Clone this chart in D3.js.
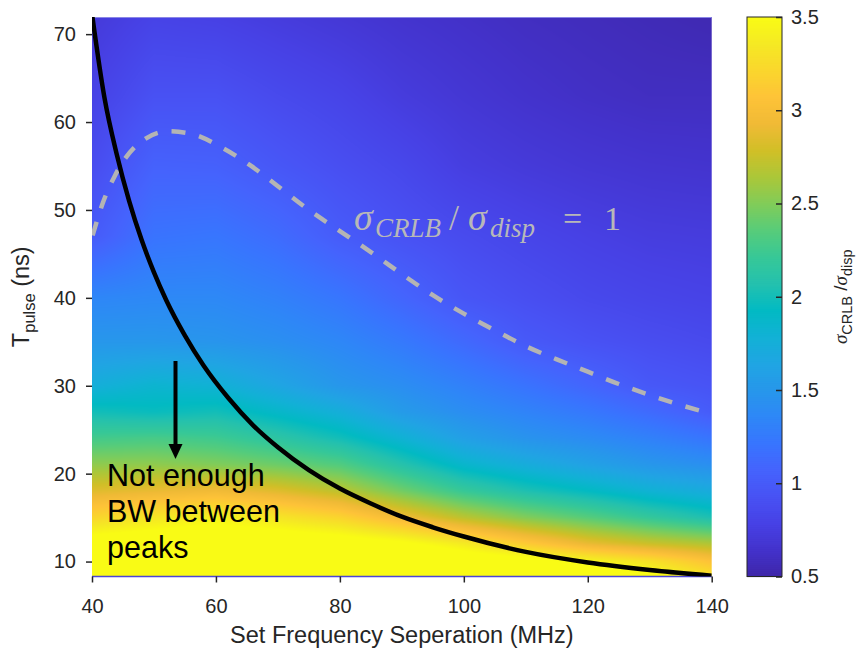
<!DOCTYPE html>
<html><head><meta charset="utf-8">
<script src="https://cdn.jsdelivr.net/npm/d3@7"></script>
<style>
body{margin:0;background:#fff;}
svg{display:block;font-family:"Liberation Sans",Arial,sans-serif;}
</style>
</head><body>
<svg id="chart" width="858" height="650"></svg>
<script>
// ---------------- data ----------------
const freqs  = [40, 50, 60, 70, 80, 90, 100, 110, 120, 130, 140];           // MHz (columns)
const pulses = [8.3, 10, 12, 15, 18, 21, 24, 27, 30, 35, 40, 47, 55, 63, 72]; // ns (rows)
const ratio = [
  [4.10, 4.20, 4.20, 4.20, 4.10, 4.05, 3.95, 3.85, 3.70, 3.55, 3.30],
  [3.90, 3.95, 4.00, 3.95, 3.90, 3.85, 3.70, 3.60, 3.45, 3.30, 3.06],
  [3.65, 3.70, 3.75, 3.70, 3.65, 3.55, 3.37, 3.13, 2.90, 2.76, 2.66],
  [3.21, 3.33, 3.42, 3.33, 3.20, 2.95, 2.70, 2.50, 2.35, 2.19, 2.04],
  [2.85, 2.90, 2.95, 2.85, 2.71, 2.45, 2.21, 2.05, 1.93, 1.80, 1.71],
  [2.55, 2.55, 2.50, 2.43, 2.33, 2.09, 1.86, 1.73, 1.61, 1.50, 1.43],
  [2.27, 2.29, 2.25, 2.14, 2.00, 1.80, 1.59, 1.47, 1.40, 1.31, 1.21],
  [2.00, 1.96, 2.00, 1.88, 1.75, 1.54, 1.42, 1.33, 1.24, 1.13, 1.01],
  [1.75, 1.83, 1.79, 1.65, 1.50, 1.42, 1.31, 1.20, 1.09, 0.98, 0.94],
  [1.50, 1.50, 1.48, 1.43, 1.36, 1.25, 1.12, 0.99, 0.93, 0.89, 0.86],
  [1.35, 1.37, 1.37, 1.31, 1.22, 1.09, 0.96, 0.90, 0.85, 0.82, 0.80],
  [1.00, 1.20, 1.22, 1.14, 1.01, 0.93, 0.87, 0.82, 0.78, 0.75, 0.74],
  [0.88, 1.06, 1.05, 0.97, 0.90, 0.84, 0.76, 0.72, 0.69, 0.67, 0.66],
  [0.79, 0.92, 0.92, 0.86, 0.81, 0.74, 0.69, 0.65, 0.62, 0.60, 0.60],
  [0.72, 0.80, 0.78, 0.74, 0.70, 0.66, 0.63, 0.60, 0.58, 0.56, 0.54]
];
// black solid curve (bandwidth limit)
const limitFreq  = [40, 42, 44, 46, 48, 50, 52, 55, 58, 62, 66, 70, 75, 80, 85, 90, 95, 100, 110, 120, 130, 140];
const limitPulse = [72.3, 62.8, 56.3, 51.0, 46.6, 42.9, 39.7, 35.7, 32.3, 28.6, 25.5, 23.0, 20.4, 18.3, 16.6, 15.1, 13.9, 12.85, 11.1, 9.9, 9.05, 8.4];
// gray dashed contour sigma_CRLB/sigma_disp = 1
const unityFreq  = [40.1, 41.8, 43.7, 46.7, 52.3, 55.8, 61.2, 65.5, 70, 75, 80, 85, 90, 95, 100, 105, 110, 115, 120, 125, 130, 135, 140];
const unityPulse = [47.1, 50.9, 53.9, 57.0, 58.95, 58.7, 57.0, 55.1, 52.7, 50.0, 47.6, 45.2, 42.7, 40.3, 38.2, 36.3, 34.5, 33.0, 31.6, 30.2, 28.95, 27.8, 26.8];
const xTicks  = [40, 60, 80, 100, 120, 140];
const yTicks  = [10, 20, 30, 40, 50, 60, 70];
const cbTicks = [0.5, 1, 1.5, 2, 2.5, 3, 3.5];
const noteLines = ["Not enough", "BW between", "peaks"];

// parula colour map stops
const parula = [
 [0.2422,0.1504,0.6603],[0.2647,0.1978,0.7952],[0.2783,0.2559,0.8991],[0.2810,0.3228,0.9579],
 [0.2699,0.3892,0.9906],[0.2206,0.4603,0.9973],[0.1786,0.5289,0.9682],[0.1540,0.5902,0.9218],
 [0.1248,0.6459,0.8883],[0.0689,0.6948,0.8394],[0.0067,0.7312,0.7660],[0.1408,0.7584,0.6842],
 [0.2161,0.7843,0.5923],[0.3406,0.8008,0.4789],[0.5044,0.7993,0.3480],[0.6720,0.7793,0.2227],
 [0.8203,0.7498,0.1535],[0.9393,0.7288,0.2100],[0.9970,0.7659,0.2199],[0.9786,0.8386,0.1766],
 [0.9597,0.9135,0.1423],[0.9769,0.9839,0.0805]
].map(c => d3.rgb(c[0]*255, c[1]*255, c[2]*255).formatHex());

// ---------------- layout ----------------
const L = 92, R = 711.7, T = 17, B = 576.5;
const svg = d3.select("#chart");
const x = d3.scaleLinear().domain([40, 140]).range([L, R]);
const y = d3.scaleLinear().domain([8.3, 71.95]).range([B, T]);
const cmin = 0.5, cmax = 3.5;
const color = d3.scaleLinear()
  .domain(parula.map((_, i) => cmin + (cmax - cmin) * i / (parula.length - 1)))
  .range(parula).interpolate(d3.interpolateRgb).clamp(true);

// ---------------- heat map (bilinear shading between grid values) ----------------
function valueAt(f, p) {
  let i = Math.min(Math.max(d3.bisectRight(freqs, f) - 1, 0), freqs.length - 2);
  let j = Math.min(Math.max(d3.bisectRight(pulses, p) - 1, 0), pulses.length - 2);
  const tx = Math.min(Math.max((f - freqs[i]) / (freqs[i+1] - freqs[i]), 0), 1);
  const ty = Math.min(Math.max((p - pulses[j]) / (pulses[j+1] - pulses[j]), 0), 1);
  const v00 = ratio[j][i], v10 = ratio[j][i+1], v01 = ratio[j+1][i], v11 = ratio[j+1][i+1];
  return (v00*(1-tx) + v10*tx) * (1-ty) + (v01*(1-tx) + v11*tx) * ty;
}
const W = Math.round(R - L), H = Math.round(B - T);
const cv = document.createElement("canvas");
cv.width = W; cv.height = H;
const ctx = cv.getContext("2d");
const img = ctx.createImageData(W, H);
for (let py = 0; py < H; py++) {
  const p = y.invert(T + py + 0.5);
  for (let px = 0; px < W; px++) {
    const f = x.invert(L + px + 0.5);
    const c = d3.rgb(color(valueAt(f, p)));
    const k = (py * W + px) * 4;
    img.data[k] = c.r; img.data[k+1] = c.g; img.data[k+2] = c.b; img.data[k+3] = 255;
  }
}
ctx.putImageData(img, 0, 0);
svg.append("image").attr("x", L).attr("y", T).attr("width", R - L).attr("height", B - T)
  .attr("preserveAspectRatio", "none").attr("href", cv.toDataURL());

// plot frame edges (as seen in the picture)
svg.append("line").attr("x1", L).attr("x2", R).attr("y1", T + 0.5).attr("y2", T + 0.5)
  .attr("stroke", "#8a86e6").attr("stroke-width", 1);
svg.append("line").attr("x1", L).attr("x2", R).attr("y1", B).attr("y2", B)
  .attr("stroke", "#4c45d6").attr("stroke-width", 1.5);

// clip
svg.append("clipPath").attr("id", "clip").append("rect")
  .attr("x", L).attr("y", T).attr("width", R - L).attr("height", B - T);

// curves
const line = d3.line().x(d => x(d[0])).y(d => y(d[1])).curve(d3.curveMonotoneX);
svg.append("path").attr("clip-path", "url(#clip)")
  .attr("d", line(unityFreq.map((f, i) => [f, unityPulse[i]])))
  .attr("fill", "none").attr("stroke", "#b4b4b4").attr("stroke-width", 4.5)
  .attr("stroke-dasharray", "14,14");
svg.append("path").attr("clip-path", "url(#clip)")
  .attr("d", line(limitFreq.map((f, i) => [f, limitPulse[i]])))
  .attr("fill", "none").attr("stroke", "#000").attr("stroke-width", 4.5);

// ---------------- axes ----------------
const tickCol = "#262626";
const gx = svg.append("g").attr("transform", `translate(0,${B})`)
  .call(d3.axisBottom(x).tickValues(xTicks).tickSize(6).tickPadding(16).tickFormat(d3.format("d")));
const gy = svg.append("g").attr("transform", `translate(${L},0)`)
  .call(d3.axisLeft(y).tickValues(yTicks).tickSize(6).tickPadding(10).tickFormat(d3.format("d")));
[gx, gy].forEach(g => {
  g.select(".domain").remove();
  g.selectAll(".tick line").attr("stroke", tickCol).attr("stroke-width", 1.5);
  g.selectAll(".tick text").attr("fill", tickCol).style("font-size", "20px")
    .style("font-family", "'Liberation Sans', Arial, sans-serif");
});

svg.append("text").attr("x", (L + R) / 2).attr("y", 643).attr("text-anchor", "middle")
  .attr("fill", tickCol).style("font-size", "23.5px").text("Set Frequency Seperation (MHz)");

const yl = svg.append("text").attr("transform", `translate(29,${(T + B) / 2}) rotate(-90)`)
  .attr("text-anchor", "middle").attr("fill", tickCol).style("font-size", "23.5px");
yl.append("tspan").text("T");
yl.append("tspan").attr("dy", 6).style("font-size", "16.5px").text("pulse");
yl.append("tspan").attr("dy", -6).text(" (ns)");

// ---------------- annotations ----------------
const note = svg.append("text").attr("fill", "#000").style("font-size", "30.5px");
noteLines.forEach((t, i) => note.append("tspan").attr("x", 107).attr("y", 486 + i * 36).text(t));

const ax = 175.5;
svg.append("line").attr("x1", ax).attr("x2", ax).attr("y1", 361).attr("y2", 447)
  .attr("stroke", "#000").attr("stroke-width", 4);
svg.append("path").attr("d", `M${ax-7},444 L${ax+7},444 L${ax},459 Z`).attr("fill", "#000");

const eq = svg.append("text").attr("y", 230).attr("fill", "#b8b8b8")
  .style("font-family", "'Liberation Serif', 'DejaVu Serif', serif").style("font-size", "34px");
eq.append("tspan").attr("x", 354).style("font-style", "italic").style("font-size", "38px").text("σ");
eq.append("tspan").attr("x", 375).attr("dy", 7).style("font-style", "italic").style("font-size", "27px").text("CRLB");
eq.append("tspan").attr("x", 449).attr("dy", -7).style("font-size", "36px").text("/");
eq.append("tspan").attr("x", 468).style("font-style", "italic").style("font-size", "38px").text("σ");
eq.append("tspan").attr("x", 490).attr("dy", 7).style("font-style", "italic").style("font-size", "27px").text("disp");
eq.append("tspan").attr("x", 563).attr("dy", -7).text("=");
eq.append("tspan").attr("x", 604).text("1");

// ---------------- colour bar ----------------
const cbL = 747, cbR = 782;
const cy = d3.scaleLinear().domain([cmin, cmax]).range([B, T]);
const steps = d3.range(0, 280);
svg.append("g").selectAll("rect").data(steps).join("rect")
  .attr("x", cbL).attr("width", cbR - cbL)
  .attr("y", i => cy(cmin + (cmax - cmin) * (i + 1) / steps.length))
  .attr("height", i => cy(cmin + (cmax - cmin) * i / steps.length) - cy(cmin + (cmax - cmin) * (i + 1) / steps.length) + 0.6)
  .attr("fill", i => color(cmin + (cmax - cmin) * (i + 0.5) / steps.length));
svg.append("rect").attr("x", cbL).attr("y", T).attr("width", cbR - cbL).attr("height", B - T)
  .attr("fill", "none").attr("stroke", tickCol).attr("stroke-width", 1);
const gc = svg.append("g").attr("transform", `translate(${cbR},0)`)
  .call(d3.axisRight(cy).tickValues(cbTicks).tickSize(-6).tickPadding(9).tickFormat(d => String(d)));
gc.select(".domain").remove();
gc.selectAll(".tick line").attr("stroke", tickCol).attr("stroke-width", 1.5);
gc.selectAll(".tick text").attr("fill", tickCol).style("font-size", "20px")
  .style("font-family", "'Liberation Sans', Arial, sans-serif");

const cl = svg.append("text").attr("transform", `translate(847,${(T + B) / 2}) rotate(-90)`)
  .attr("text-anchor", "middle").attr("fill", tickCol).style("font-size", "19px");
cl.append("tspan").style("font-style", "italic").style("font-family", "'Liberation Serif', serif").text("σ");
cl.append("tspan").attr("dy", 5).style("font-size", "14.5px").text("CRLB");
cl.append("tspan").attr("dy", -5).text(" /");
cl.append("tspan").style("font-style", "italic").style("font-family", "'Liberation Serif', serif").text("σ");
cl.append("tspan").attr("dy", 5).style("font-size", "14.5px").text("disp");
</script>
</body></html>
